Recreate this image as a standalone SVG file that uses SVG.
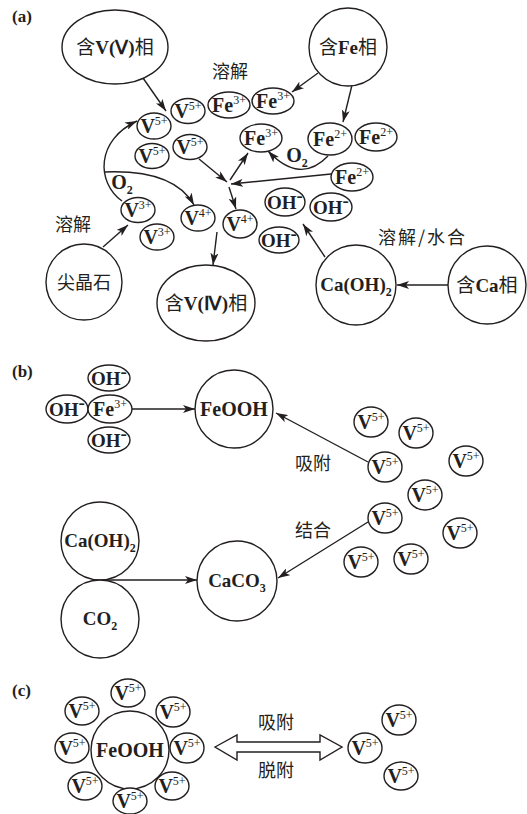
<svg xmlns="http://www.w3.org/2000/svg" width="527" height="814" viewBox="0 0 527 814">
<style>
.e{fill:#fff;stroke:#231f20;stroke-width:1.4}
.ln{fill:none;stroke:#231f20;stroke-width:1.4}
.a{marker-end:url(#ah)}
.f{font-family:"Liberation Serif",serif;font-weight:bold;fill:#231f20;text-anchor:middle}
.m{font-size:20px}
.o{font-size:19px}
.L{font-size:20px}
.sp{font-size:12px;font-weight:normal}
.sb{font-size:12px}
.c{font-family:"Noto Sans CJK SC",sans-serif;font-weight:normal}
.lbl{font-family:"Noto Sans CJK SC",sans-serif;font-size:18px;fill:#231f20}
.pl{font-family:"Liberation Serif",serif;font-weight:bold;font-size:17px;fill:#231f20}
</style>
<defs>
<marker id="ah" markerWidth="13" markerHeight="8" refX="12" refY="4" orient="auto" markerUnits="userSpaceOnUse">
<path d="M0,0 L12,4 L0,8 L3,4 z" fill="#231f20"/>
</marker>
</defs>
<rect width="527" height="814" fill="#fff"/>

<text class="pl" x="12" y="22">(a)</text>
<text class="pl" x="12" y="377">(b)</text>
<text class="pl" x="12" y="696">(c)</text>

<g id="connectors">
<path class="ln a" d="M143,78 L166,111"/>
<path class="ln a" d="M318,73 L292,92"/>
<path class="ln a" d="M352,85 L343,122"/>
<path class="ln a" d="M103,247 L128,225"/>
<path class="ln a" d="M122,201 C96,182 96,140 137,121"/>
<path class="ln a" d="M104,172 C150,170 180,180 194,205"/>
<path class="ln a" d="M199,159 L227,182"/>
<path class="ln a" d="M230,180 L248,153"/>
<path class="ln a" d="M229,187 L236,209"/>
<path class="ln a" d="M331,174 L231,184"/>
<path class="ln a" d="M328,156 Q300,185 268,151"/>
<path class="ln a" d="M217,232 L213,265"/>
<path class="ln a" d="M325,257 L303,224"/>
<path class="ln a" d="M448,285 L397,285"/>
<path class="ln a" d="M132,409 L195,409"/>
<path class="ln a" d="M368,462 L276,413"/>
<path class="ln a" d="M368,522 L278,578"/>
<path class="ln a" d="M100,580 L197,580"/>
<polygon class="e" points="215,747 237,735 237,742 320,742 320,735 342,747 320,760 320,752 237,752 237,760"/>
</g>

<text class="lbl" x="212" y="78">溶解</text>
<text class="lbl" x="55" y="231">溶解</text>
<text class="lbl" x="378" y="244" letter-spacing="2">溶解/水合</text>
<text class="lbl" x="295" y="470">吸附</text>
<text class="lbl" x="295" y="537">结合</text>
<text class="lbl" x="258" y="729">吸附</text>
<text class="lbl" x="258" y="777">脱附</text>
<text class="f m" x="122" y="189">O<tspan class="sb" dy="5">2</tspan></text>
<text class="f m" x="297" y="162">O<tspan class="sb" dy="5">2</tspan></text>

<g id="vv-phase"><ellipse class="e" cx="115" cy="47" rx="53" ry="37"/><text class="f" x="115" y="54" font-size="19"><tspan class="c">含</tspan>V(Ⅴ)<tspan class="c">相</tspan></text></g>
<g id="fe-phase"><circle class="e" cx="348" cy="47" r="39"/><text class="f" x="348" y="54" font-size="19"><tspan class="c">含</tspan>Fe<tspan class="c">相</tspan></text></g>
<g id="spinel"><circle class="e" cx="84" cy="282" r="38"/><text class="f c" x="84" y="289" font-size="18">尖晶石</text></g>
<g id="viv-phase"><ellipse class="e" cx="206" cy="303" rx="49" ry="38"/><text class="f" x="206" y="310" font-size="19"><tspan class="c">含</tspan>V(Ⅳ)<tspan class="c">相</tspan></text></g>
<g id="caoh2-a"><circle class="e" cx="356" cy="285" r="40"/><text class="f" x="356" y="291" font-size="19">Ca(OH)<tspan class="sb" dy="5">2</tspan></text></g>
<g id="ca-phase"><circle class="e" cx="487" cy="285" r="39"/><text class="f" x="487" y="292" font-size="19"><tspan class="c">含</tspan>Ca<tspan class="c">相</tspan></text></g>

<g id="a-v5-1"><ellipse class="e" cx="154" cy="126" rx="17" ry="13"/><text class="f m" x="154" y="133">V<tspan class="sp" dy="-8">5+</tspan></text></g>
<g id="a-v5-2"><ellipse class="e" cx="188" cy="111" rx="17" ry="12.5"/><text class="f m" x="188" y="118">V<tspan class="sp" dy="-8">5+</tspan></text></g>
<g id="a-v5-3"><ellipse class="e" cx="152" cy="156" rx="17" ry="12.5"/><text class="f m" x="152" y="163">V<tspan class="sp" dy="-8">5+</tspan></text></g>
<g id="a-v5-4"><ellipse class="e" cx="190" cy="147" rx="17" ry="12.5"/><text class="f m" x="190" y="154">V<tspan class="sp" dy="-8">5+</tspan></text></g>
<g id="a-fe3-1"><ellipse class="e" cx="229" cy="105" rx="21" ry="13"/><text class="f m" x="229" y="112">Fe<tspan class="sp" dy="-8">3+</tspan></text></g>
<g id="a-fe3-2"><ellipse class="e" cx="273" cy="101" rx="21" ry="13"/><text class="f m" x="273" y="108">Fe<tspan class="sp" dy="-8">3+</tspan></text></g>
<g id="a-fe3-3"><ellipse class="e" cx="261" cy="138" rx="21" ry="14"/><text class="f m" x="261" y="145">Fe<tspan class="sp" dy="-8">3+</tspan></text></g>
<g id="a-fe2-1"><ellipse class="e" cx="330" cy="139" rx="22" ry="16"/><text class="f m" x="330" y="146">Fe<tspan class="sp" dy="-8">2+</tspan></text></g>
<g id="a-fe2-2"><ellipse class="e" cx="376" cy="137" rx="21" ry="14"/><text class="f m" x="376" y="144">Fe<tspan class="sp" dy="-8">2+</tspan></text></g>
<g id="a-fe2-3"><ellipse class="e" cx="352" cy="177" rx="21" ry="14"/><text class="f m" x="352" y="184">Fe<tspan class="sp" dy="-8">2+</tspan></text></g>
<g id="a-v3-1"><ellipse class="e" cx="138" cy="210" rx="17" ry="12.5"/><text class="f m" x="138" y="217">V<tspan class="sp" dy="-8">3+</tspan></text></g>
<g id="a-v3-2"><ellipse class="e" cx="157" cy="237" rx="17" ry="13"/><text class="f m" x="157" y="244">V<tspan class="sp" dy="-8">3+</tspan></text></g>
<g id="a-v4-1"><ellipse class="e" cx="198" cy="218" rx="17" ry="13"/><text class="f m" x="198" y="225">V<tspan class="sp" dy="-8">4+</tspan></text></g>
<g id="a-v4-2"><ellipse class="e" cx="240" cy="224" rx="17" ry="14"/><text class="f m" x="240" y="231">V<tspan class="sp" dy="-8">4+</tspan></text></g>
<g id="a-oh-1"><ellipse class="e" cx="285" cy="202" rx="20" ry="14"/><text class="f o" x="285" y="209">OH<tspan dy="-7">-</tspan></text></g>
<g id="a-oh-2"><ellipse class="e" cx="331" cy="207" rx="21" ry="14"/><text class="f o" x="331" y="214">OH<tspan dy="-7">-</tspan></text></g>
<g id="a-oh-3"><ellipse class="e" cx="279" cy="240" rx="20" ry="13"/><text class="f o" x="279" y="247">OH<tspan dy="-7">-</tspan></text></g>

<g id="b-oh-top"><ellipse class="e" cx="109" cy="378" rx="21" ry="13"/><text class="f o" x="109" y="385">OH<tspan dy="-7">-</tspan></text></g>
<g id="b-oh-left"><ellipse class="e" cx="67" cy="409" rx="21" ry="14"/><text class="f o" x="67" y="416">OH<tspan dy="-7">-</tspan></text></g>
<g id="b-fe3"><ellipse class="e" cx="110" cy="409" rx="22" ry="14"/><text class="f m" x="110" y="416">Fe<tspan class="sp" dy="-8">3+</tspan></text></g>
<g id="b-oh-bot"><ellipse class="e" cx="109" cy="440" rx="21" ry="13"/><text class="f o" x="109" y="447">OH<tspan dy="-7">-</tspan></text></g>
<g id="b-feooh"><circle class="e" cx="234" cy="409" r="39"/><text class="f L" x="234" y="416">FeOOH</text></g>
<g id="b-caoh2"><circle class="e" cx="100" cy="541" r="39"/><text class="f" x="100" y="547" font-size="19">Ca(OH)<tspan class="sb" dy="5">2</tspan></text></g>
<g id="b-co2"><circle class="e" cx="100" cy="619" r="39"/><text class="f" x="100" y="625" font-size="19">CO<tspan class="sb" dy="5">2</tspan></text></g>
<g id="b-caco3"><circle class="e" cx="237" cy="581" r="40"/><text class="f" x="237" y="587" font-size="19">CaCO<tspan class="sb" dy="5">3</tspan></text></g>
<g id="b-v5-1"><ellipse class="e" cx="371" cy="422" rx="17" ry="15"/><text class="f L" x="371" y="429">V<tspan class="sp" dy="-8">5+</tspan></text></g>
<g id="b-v5-2"><ellipse class="e" cx="416" cy="433" rx="17" ry="15"/><text class="f L" x="416" y="440">V<tspan class="sp" dy="-8">5+</tspan></text></g>
<g id="b-v5-3"><ellipse class="e" cx="385" cy="467" rx="17" ry="15"/><text class="f L" x="385" y="474">V<tspan class="sp" dy="-8">5+</tspan></text></g>
<g id="b-v5-4"><ellipse class="e" cx="466" cy="461" rx="17" ry="15"/><text class="f L" x="466" y="468">V<tspan class="sp" dy="-8">5+</tspan></text></g>
<g id="b-v5-5"><ellipse class="e" cx="425" cy="495" rx="17" ry="15"/><text class="f L" x="425" y="502">V<tspan class="sp" dy="-8">5+</tspan></text></g>
<g id="b-v5-6"><ellipse class="e" cx="385" cy="518" rx="17" ry="15"/><text class="f L" x="385" y="525">V<tspan class="sp" dy="-8">5+</tspan></text></g>
<g id="b-v5-7"><ellipse class="e" cx="460" cy="533" rx="17" ry="15"/><text class="f L" x="460" y="540">V<tspan class="sp" dy="-8">5+</tspan></text></g>
<g id="b-v5-8"><ellipse class="e" cx="361" cy="562" rx="17" ry="15"/><text class="f L" x="361" y="569">V<tspan class="sp" dy="-8">5+</tspan></text></g>
<g id="b-v5-9"><ellipse class="e" cx="411" cy="559" rx="17" ry="15"/><text class="f L" x="411" y="566">V<tspan class="sp" dy="-8">5+</tspan></text></g>

<g id="c-feooh"><circle class="e" cx="130" cy="750" r="39"/><text class="f L" x="130" y="757">FeOOH</text></g>
<g id="c-v5-1"><ellipse class="e" cx="128" cy="693" rx="17" ry="14"/><text class="f L" x="128" y="700">V<tspan class="sp" dy="-8">5+</tspan></text></g>
<g id="c-v5-2"><ellipse class="e" cx="173" cy="712" rx="17" ry="15"/><text class="f L" x="173" y="719">V<tspan class="sp" dy="-8">5+</tspan></text></g>
<g id="c-v5-3"><ellipse class="e" cx="187" cy="748" rx="17" ry="15"/><text class="f L" x="187" y="755">V<tspan class="sp" dy="-8">5+</tspan></text></g>
<g id="c-v5-4"><ellipse class="e" cx="172" cy="786" rx="17" ry="14"/><text class="f L" x="172" y="793">V<tspan class="sp" dy="-8">5+</tspan></text></g>
<g id="c-v5-5"><ellipse class="e" cx="130" cy="801" rx="17" ry="13"/><text class="f L" x="130" y="808">V<tspan class="sp" dy="-8">5+</tspan></text></g>
<g id="c-v5-6"><ellipse class="e" cx="85" cy="786" rx="17" ry="14"/><text class="f L" x="85" y="793">V<tspan class="sp" dy="-8">5+</tspan></text></g>
<g id="c-v5-7"><ellipse class="e" cx="72" cy="748" rx="17" ry="15"/><text class="f L" x="72" y="755">V<tspan class="sp" dy="-8">5+</tspan></text></g>
<g id="c-v5-8"><ellipse class="e" cx="82" cy="711" rx="17" ry="14"/><text class="f L" x="82" y="718">V<tspan class="sp" dy="-8">5+</tspan></text></g>
<g id="c-v5-r1"><ellipse class="e" cx="365" cy="748" rx="17" ry="15"/><text class="f L" x="365" y="755">V<tspan class="sp" dy="-8">5+</tspan></text></g>
<g id="c-v5-r2"><ellipse class="e" cx="399" cy="720" rx="17" ry="15"/><text class="f L" x="399" y="727">V<tspan class="sp" dy="-8">5+</tspan></text></g>
<g id="c-v5-r3"><ellipse class="e" cx="401" cy="776" rx="17" ry="14"/><text class="f L" x="401" y="783">V<tspan class="sp" dy="-8">5+</tspan></text></g>
</svg>
